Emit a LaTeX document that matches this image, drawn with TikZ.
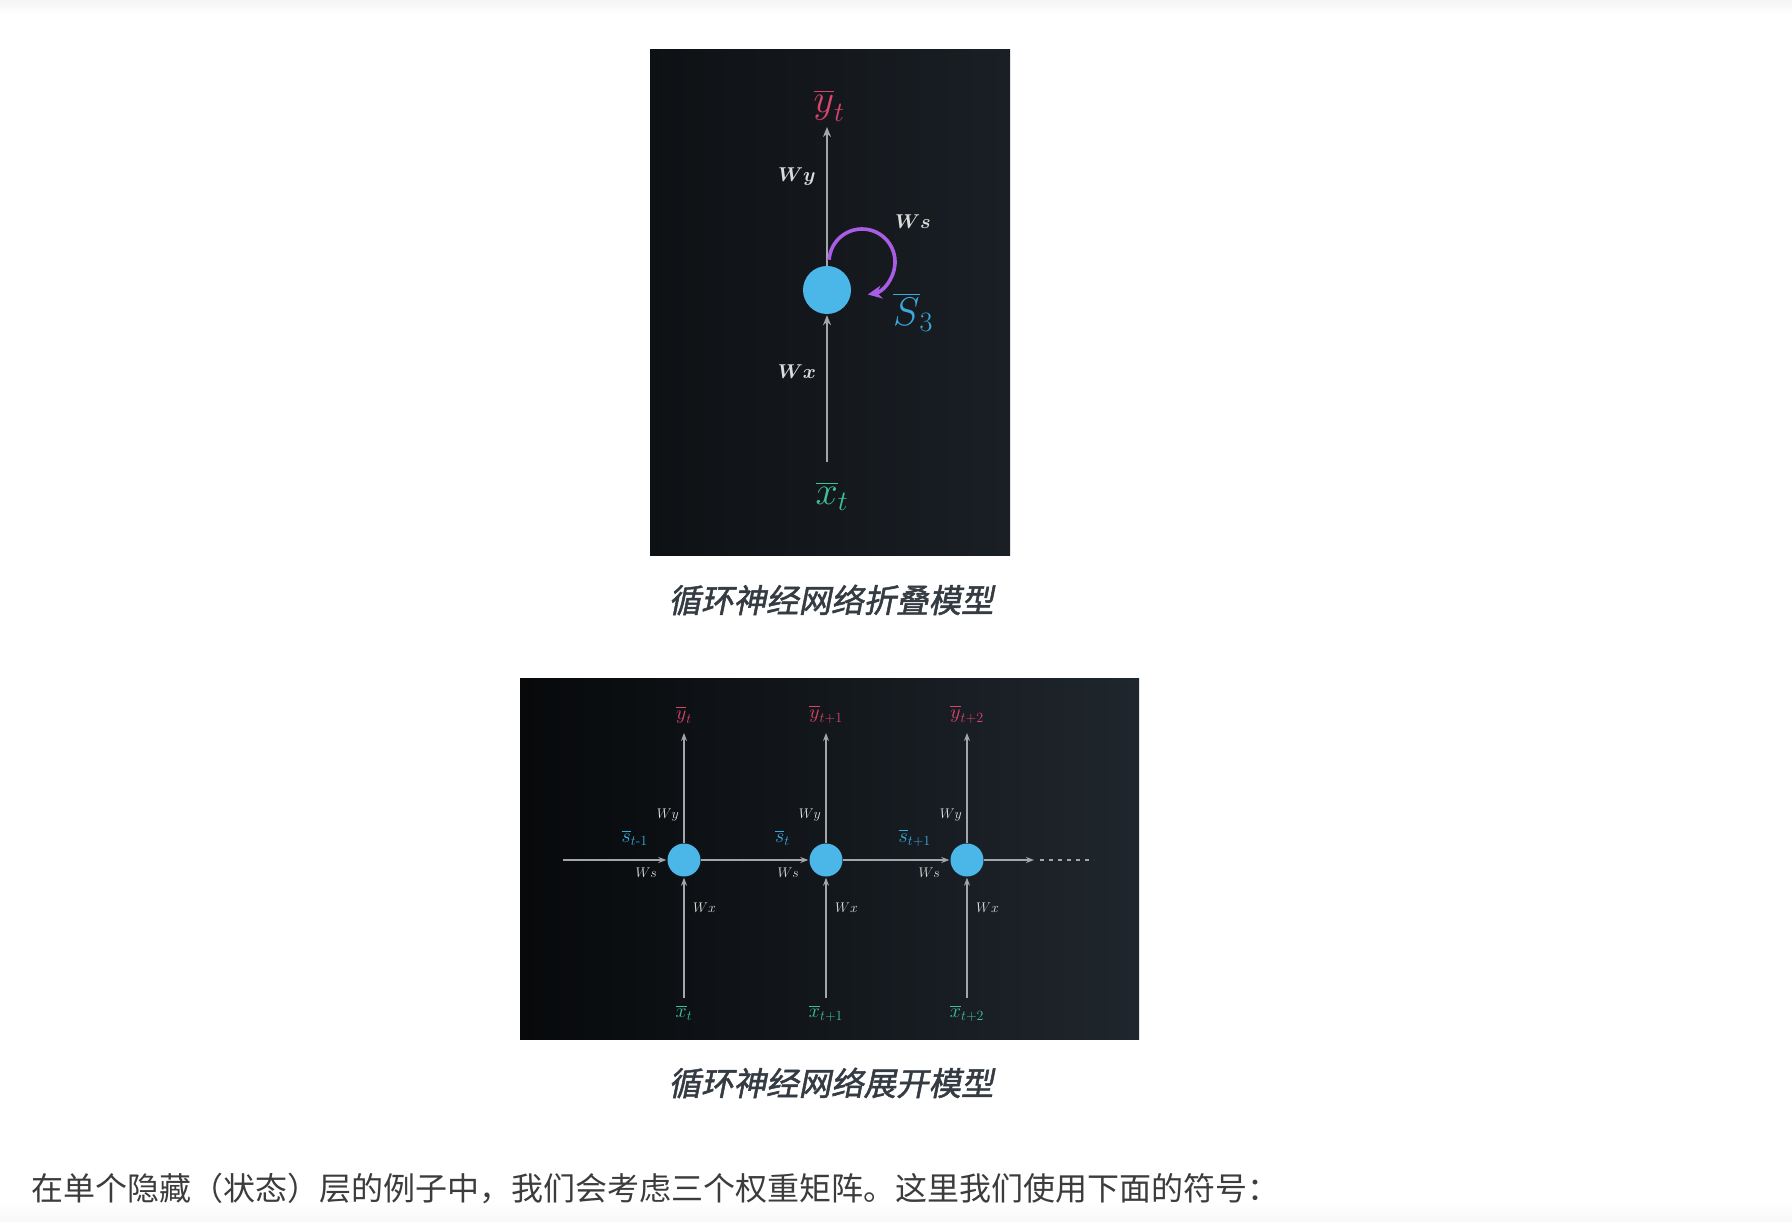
\RequirePackage{fix-cm}
\documentclass[tikz,border=0pt]{standalone}
\usepackage{amsmath}
\usepackage{bm}
\usepackage{fontspec}
\usepackage{xcolor}
\usetikzlibrary{arrows.meta}
\newfontfamily\cjkbody{Noto Sans CJK SC}
\newfontfamily\cjkcap[FakeSlant=0.2,FakeBold=1.5]{Noto Sans CJK SC}

\definecolor{foldL}{HTML}{0E1114}
\definecolor{foldR}{HTML}{1A1F25}
\definecolor{unrollL}{HTML}{07090B}
\definecolor{unrollR}{HTML}{1F262D}
\definecolor{cellblue}{HTML}{4BB6E8}
\definecolor{outred}{HTML}{D9456A}
\definecolor{ingreen}{HTML}{3EC196}
\definecolor{stateblue}{HTML}{3AA9DC}
\definecolor{looppurple}{HTML}{A95CE6}
\definecolor{wiregray}{HTML}{A3A6AA}
\definecolor{wlabel}{HTML}{DCDCDC}
\definecolor{captext}{HTML}{353B42}
\definecolor{bodytext}{HTML}{3C3C3C}

\tikzset{
  wire/.style={draw=wiregray, line width=2, -{Stealth[length=10,width=8]}},
  wire small/.style={draw=wiregray, line width=1.4, -{Stealth[length=8,width=6]}},
  cell big/.style={circle, fill=cellblue, inner sep=0, minimum size=48},
  cell small/.style={circle, fill=cellblue, inner sep=0, minimum size=33},
  wbig/.style={text=wlabel, inner sep=0, font=\fontsize{20}{20}\selectfont},
  wsmall/.style={text=wlabel, inner sep=0, font=\fontsize{14}{14}\selectfont},
  vbig/.style={inner sep=0, font=\fontsize{40}{40}\selectfont},
  vsmall/.style={inner sep=0, font=\fontsize{20}{20}\selectfont},
}

\begin{document}
\begin{tikzpicture}[x=1pt,y=-1pt]
\useasboundingbox (0,0) rectangle (1792,1222);
\fill[white] (0,0) rectangle (1792,1222);
\shade[top color=black!4, bottom color=white] (0,0) rectangle (1792,14);
\shade[top color=white, bottom color=black!3] (1792,1200) rectangle (0,1222);

%Panel: folded model
\shade[left color=foldL, right color=foldR] (650,50) rectangle (1010,555);
\node[cell big] (h) at (827,290) {};
% Text Node
\node[vbig, text=outred, anchor=south] (yt) at (829,122) {$\overline{y}_t$};
\node[vbig, text=ingreen, anchor=north] (xt) at (832,482) {$\overline{x}_t$};
\node[vbig, text=stateblue] (s3) at (913,312) {$\overline{S}_3$};
\node[wbig] (wy) at (797,177) {$\bm{Wy}$};
\node[wbig] (wx) at (797,372) {$\bm{Wx}$};
\node[wbig] (ws) at (913,222) {$\bm{Ws}$};
%Straight Lines
\draw[wire, shorten >=5] (h) -- (h |- yt.south);
\draw[wire, shorten <=20, shorten >=1] (h |- xt.north) -- (h);
%Shape: Arc
\coordinate (loopstart) at (829.1,259.7);
\draw[looppurple, line width=3.6, -{Stealth[length=14,width=13]}]
  (loopstart) arc[start angle=-176, end angle=80, radius=33];

%Panel: unrolled model
\shade[left color=unrollL, right color=unrollR] (520,678) rectangle (1139,1039);
\coordinate (sin) at (563,860);
\coordinate (sout) at (1034,860);
\coordinate (dotsA) at (1040,860);
\coordinate (dotsB) at (1094,860);
\foreach \i/\cx/\sub/\sst in {1/684/t/{t\text{-}1}, 2/826/{t+1}/t, 3/967/{t+2}/{t+1}}{
  \node[cell small] (c\i) at (\cx,860) {};
  % Text Node
  \node[vsmall, text=outred, anchor=south] (y\i) at (\cx,724) {$\overline{y}_{\sub}$};
  \node[vsmall, text=ingreen, anchor=north] (x\i) at (\cx,1005) {$\overline{x}_{\sub}$};
  \node[vsmall, text=stateblue, anchor=east] (s\i) at (\cx-36,838) {$\overline{s}_{\sst}$};
  \node[wsmall, anchor=east] (wy\i) at (\cx-5,815) {$Wy$};
  \node[wsmall, anchor=east] (ws\i) at (\cx-27,873) {$Ws$};
  \node[wsmall, anchor=west] (wx\i) at (\cx+9,908) {$Wx$};
  %Straight Lines
  \draw[wire small, shorten >=9] (c\i) -- (c\i |- y\i.south);
  \draw[wire small, shorten <=7, shorten >=1] (c\i |- x\i.north) -- (c\i);
}
\draw[wire small, shorten >=1] (sin) -- (c1);
\draw[wire small, shorten >=1] (c1) -- (c2);
\draw[wire small, shorten >=1] (c2) -- (c3);
\draw[wire small] (c3) -- (sout);
\draw[wiregray, line width=1.4, dash pattern=on 4 off 5] (dotsA) -- (dotsB);

% Text Node: captions
\node[font=\cjkcap\fontsize{32.5}{32.5}\selectfont, text=captext] (cap1) at (831,600) {循环神经网络折叠模型};
\node[font=\cjkcap\fontsize{32.5}{32.5}\selectfont, text=captext] (cap2) at (831,1083) {循环神经网络展开模型};
\node[font=\cjkbody\fontsize{32}{32}\selectfont, text=bodytext, anchor=west, inner sep=0] (body) at (31,1189)
  {在单个隐藏（状态）层的例子中，我们会考虑三个权重矩阵。这里我们使用下面的符号：};
\end{tikzpicture}
\end{document}
